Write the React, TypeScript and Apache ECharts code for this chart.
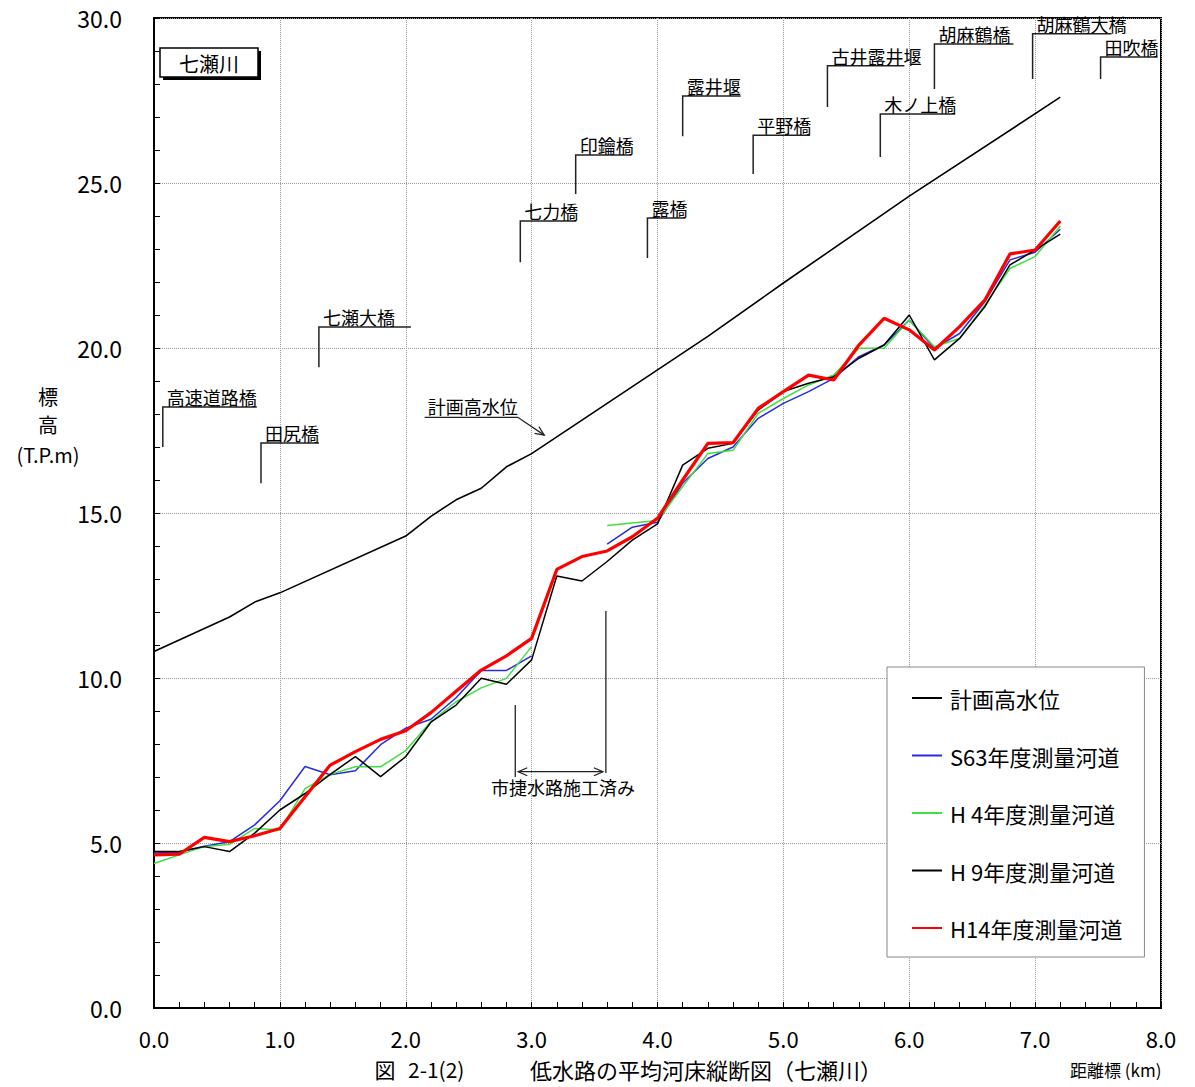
import React, { useEffect, useRef } from "react";
import * as echarts from "echarts";

// distance markers (km) for surveyed river-bed profiles
const KM = [0, 0.2, 0.4, 0.6, 0.8, 1.0, 1.2, 1.4, 1.6, 1.8, 2.0, 2.2, 2.4, 2.6, 2.8, 3.0, 3.2, 3.4, 3.6, 3.8, 4.0, 4.2, 4.4, 4.6, 4.8, 5.0, 5.2, 5.4, 5.6, 5.8, 6.0, 6.2, 6.4, 6.6, 6.8, 7.0, 7.2];

// 計画高水位
const HWL_KM = [0, 0.6, 0.8, 1.0, 2.0, 2.2, 2.4, 2.6, 2.8, 3.0, 4.4, 5.0, 6.0, 7.2];
const HWL = [10.8, 11.85, 12.3, 12.58, 14.3, 14.9, 15.4, 15.75, 16.4, 16.8, 20.35, 21.97, 24.6, 27.6];

const S63 = [4.70, 4.72, 4.90, 5.04, 5.55, 6.28, 7.32, 7.07, 7.19, 7.98, 8.48, 8.75, 9.4, 10.23, 10.23, 10.67, null, null, 14.06, 14.57, 14.72, 15.9, 16.65, 17.0, 17.87, 18.32, 18.68, 19.08, 19.74, 20.09, 20.85, 19.99, 20.44, 21.4, 22.67, 22.9, 23.6];
const H4 = [4.38, 4.64, 4.89, 4.96, 5.44, 5.4, 6.65, 7.08, 7.31, 7.31, 7.8, 8.68, 9.28, 9.7, 9.99, 10.95, null, null, 14.62, 14.7, 14.77, 15.8, 16.8, 16.9, 18.02, 18.47, 18.88, 19.18, 19.99, 19.99, 20.85, 20.04, 20.29, 21.3, 22.41, 22.77, 23.7];
const H9 = [4.74, 4.74, 4.89, 4.74, 5.3, 6.0, 6.5, 7.08, 7.62, 7.01, 7.62, 8.66, 9.18, 9.99, 9.81, 10.55, 13.09, 12.94, 13.53, 14.18, 14.67, 16.45, 16.96, 17.11, 18.12, 18.68, 18.93, 19.13, 19.69, 20.09, 21.0, 19.64, 20.29, 21.25, 22.52, 22.97, 23.45];
const H14 = [4.64, 4.66, 5.17, 5.04, 5.22, 5.44, 6.4, 7.36, 7.77, 8.14, 8.4, 8.95, 9.6, 10.24, 10.67, 11.2, 13.29, 13.68, 13.85, 14.28, 14.84, 16.0, 17.11, 17.13, 18.17, 18.68, 19.18, 19.03, 20.09, 20.9, 20.55, 19.94, 20.65, 21.45, 22.85, 22.97, 23.85];

const SERIES_NAMES = ["計画高水位", "S63年度測量河道", "H 4年度測量河道", "H 9年度測量河道", "H14年度測量河道"];
const Y_TICKS = [0, 5, 10, 15, 20, 25, 30];
const X_TICKS = [0, 1, 2, 3, 4, 5, 6, 7, 8];

// bridge / weir names with km location and leader-line elevation span
const BRIDGES = [
  { name: "高速道路橋", km: 0.07, lo: 17.0, hi: 18.21, w: 94 },
  { name: "田尻橋", km: 0.85, lo: 15.9, hi: 17.12, w: 58 },
  { name: "七瀬大橋", km: 1.31, lo: 19.42, hi: 20.64, w: 92 },
  { name: "七力橋", km: 2.91, lo: 22.6, hi: 23.85, w: 56 },
  { name: "印鑰橋", km: 3.35, lo: 24.67, hi: 25.85, w: 56 },
  { name: "露橋", km: 3.92, lo: 22.73, hi: 23.94, w: 38 },
  { name: "露井堰", km: 4.2, lo: 26.42, hi: 27.64, w: 58 },
  { name: "平野橋", km: 4.76, lo: 25.27, hi: 26.45, w: 57 },
  { name: "古井露井堰", km: 5.35, lo: 27.3, hi: 28.55, w: 77 },
  { name: "木ノ上橋", km: 5.77, lo: 25.79, hi: 27.09, w: 75 },
  { name: "胡麻鶴橋", km: 6.2, lo: 27.85, hi: 29.21, w: 79 },
  { name: "胡麻鶴大橋", km: 6.98, lo: 28.15, hi: 29.52, w: 79 },
  { name: "田吹橋", km: 7.52, lo: 28.15, hi: 28.82, w: 57 },
];

const FONT = '"Noto Sans CJK JP", "Noto Sans", sans-serif';

function pairs(xs: number[], ys: (number | null)[]) {
  return xs.map((x, i) => [x, ys[i] === null ? "-" : ys[i]]);
}

export default function App() {
  const ref = useRef<HTMLDivElement>(null);
  useEffect(() => {
    if (!ref.current) return;
    const chart = echarts.init(ref.current, null, { renderer: "svg" });
    const axisCommon = {
      type: "value" as const,
      axisLine: { show: true, lineStyle: { color: "#000", width: 2 } },
      axisTick: { show: true, inside: true, length: 6, lineStyle: { color: "#000", width: 1 } },
      minorTick: { show: true, splitNumber: 5, length: 6, lineStyle: { color: "#000", width: 1 } },
      splitLine: { show: true, lineStyle: { color: "#999", type: "dotted", width: 1 } },
      axisLabel: { color: "#000", fontFamily: FONT, fontSize: 23, formatter: (v: number) => v.toFixed(1) },
    };
    const colors = ["#000000", "#2a2ae0", "#3ee03e", "#000000", "#ff0000"];
    const widths = [1.6, 1.5, 1.5, 1.5, 3.2];
    const datas = [
      pairs(HWL_KM, HWL),
      pairs(KM, S63),
      pairs(KM, H4),
      pairs(KM, H9),
      pairs(KM, H14),
    ];
    chart.setOption({
      animation: false,
      backgroundColor: "#fff",
      grid: { left: 154, right: 34, top: 18, bottom: 79, show: true, borderColor: "#000", borderWidth: 2, backgroundColor: "transparent" },
      xAxis: {
        ...axisCommon,
        min: X_TICKS[0],
        max: X_TICKS[X_TICKS.length - 1],
        interval: 1,
        axisLabel: { ...axisCommon.axisLabel, fontSize: 22, margin: 19, lineHeight: 22 },
      },
      yAxis: {
        ...axisCommon,
        min: Y_TICKS[0],
        max: Y_TICKS[Y_TICKS.length - 1],
        interval: 5,
        axisLabel: { ...axisCommon.axisLabel, margin: 32 },
      },
      legend: {
        orient: "vertical",
        left: 887,
        top: 667,
        padding: [20, 22, 18, 25],
        itemGap: 35.5,
        itemWidth: 30,
        itemHeight: 2,
        icon: "rect",
        backgroundColor: "#fff",
        borderColor: "#888",
        borderWidth: 1,
        borderRadius: 0,
        textStyle: { fontFamily: FONT, fontSize: 22, color: "#000", padding: [0, 0, 0, 3] },
        data: SERIES_NAMES,
      },
      series: SERIES_NAMES.map((n, i) => ({
        name: n,
        type: "line",
        data: datas[i],
        symbol: "none",
        connectNulls: false,
        color: colors[i],
        lineStyle: { color: colors[i], width: widths[i] },
        z: 2 + i,
      })),
    });

    const px = (k: number, v: number) => chart.convertToPixel({ gridIndex: 0 }, [k, v]) as number[];
    const line = "#222";
    const els: any[] = [];
    const txt = (text: string, x: number, y: number, size: number, align = "left", valign = "middle") => ({
      type: "text",
      x,
      y,
      z: 100,
      style: { text, fill: "#000", fontFamily: FONT, fontSize: size, textAlign: align, textVerticalAlign: valign },
    });

    BRIDGES.forEach((b) => {
      const [x, yb] = px(b.km, b.lo);
      const [, yt] = px(b.km, b.hi);
      els.push({
        type: "polyline",
        z: 100,
        shape: { points: [[x, yb], [x, yt], [x + b.w, yt]] },
        style: { stroke: line, lineWidth: 1.5, fill: null },
      });
      els.push(txt(b.name, x + 4, yt - 1, 18, "left", "bottom"));
    });

    // 計画高水位 leader with arrow
    {
      const a = px(2.15, 17.9);
      const b = px(2.89, 17.9);
      const c = px(3.1, 17.36);
      els.push({ type: "polyline", z: 100, shape: { points: [a, b, c] }, style: { stroke: line, lineWidth: 1.3, fill: null } });
      const dx = c[0] - b[0], dy = c[1] - b[1];
      const L = Math.hypot(dx, dy);
      const ux = dx / L, uy = dy / L;
      const h = 9, hw = 4;
      els.push({
        type: "polyline", z: 100,
        shape: { points: [[c[0] - ux * h - uy * hw, c[1] - uy * h + ux * hw], c, [c[0] - ux * h + uy * hw, c[1] - uy * h - ux * hw]] },
        style: { stroke: line, lineWidth: 1.3, fill: null },
      });
      els.push(txt("計画高水位", a[0] + 3, a[1] - 2, 18, "left", "bottom"));
    }

    // 市捷水路施工済み
    {
      const l1 = px(2.87, 9.18), l2 = px(2.87, 7.0);
      const r1 = px(3.59, 12.03), r2 = px(3.59, 7.12);
      els.push({ type: "line", z: 100, shape: { x1: l1[0], y1: l1[1], x2: l2[0], y2: l2[1] }, style: { stroke: line, lineWidth: 1.3 } });
      els.push({ type: "line", z: 100, shape: { x1: r1[0], y1: r1[1], x2: r2[0], y2: r2[1] }, style: { stroke: line, lineWidth: 1.3 } });
      const yA = px(3, 7.16)[1];
      const xa = l1[0] + 3, xb = r1[0] - 3;
      els.push({ type: "line", z: 100, shape: { x1: xa, y1: yA, x2: xb, y2: yA }, style: { stroke: line, lineWidth: 1.3 } });
      els.push({ type: "polyline", z: 100, shape: { points: [[xa + 9, yA - 4], [xa, yA], [xa + 9, yA + 4]] }, style: { stroke: line, lineWidth: 1.3, fill: null } });
      els.push({ type: "polyline", z: 100, shape: { points: [[xb - 9, yA - 4], [xb, yA], [xb - 9, yA + 4]] }, style: { stroke: line, lineWidth: 1.3, fill: null } });
      const t = px(3.25, 6.7);
      els.push(txt("市捷水路施工済み", t[0], t[1], 18, "center", "middle"));
    }

    // river name box
    {
      const o = px(0, 30);
      const bx = o[0] + 6, by = o[1] + 30, bw = 98, bh = 29;
      els.push({ type: "rect", z: 99, shape: { x: bx + 3, y: by + 3, width: bw, height: bh }, style: { fill: "#000" } });
      els.push({ type: "rect", z: 100, shape: { x: bx, y: by, width: bw, height: bh }, style: { fill: "#fff", stroke: "#000", lineWidth: 1.5 } });
      els.push(txt("七瀬川", bx + bw / 2, by + bh / 2 + 1, 20, "center", "middle"));
    }

    // y-axis name
    els.push(txt("標", 48, 396, 20, "center", "middle"));
    els.push(txt("高", 48, 424, 20, "center", "middle"));
    els.push(txt("(T.P.m)", 48, 454, 20, "center", "middle"));

    // caption and x-axis name
    els.push(txt("図", 385, 1069, 21, "center", "middle"));
    els.push(txt("2-1(2)", 408, 1069, 21, "left", "middle"));
    els.push(txt("低水路の平均河床縦断図（七瀬川）", 530, 1069, 22, "left", "middle"));
    els.push(txt("距離標 (km)", 1070, 1069, 17, "left", "middle"));

    chart.setOption({ graphic: els });
    return () => chart.dispose();
  }, []);
  return <div ref={ref} style={{ position: "fixed", left: 0, top: 0, width: 1195, height: 1087, background: "#fff" }} />;
}
